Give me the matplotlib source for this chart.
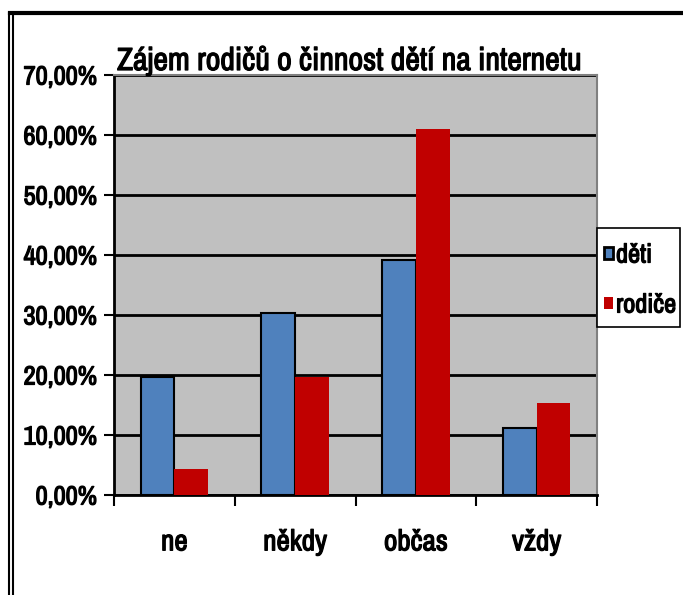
import matplotlib
matplotlib.use('Agg')
import matplotlib.pyplot as plt
from matplotlib import font_manager
from matplotlib.lines import Line2D
from matplotlib.patches import Rectangle
import matplotlib.patheffects as pe
import numpy as np

categories = ['ne', 'někdy', 'občas', 'vždy']
series = ['děti', 'rodiče']
deti = [19.7, 30.3, 39.2, 11.2]
rodice = [4.3, 19.7, 61.0, 15.3]
yticks = [0, 10, 20, 30, 40, 50, 60, 70]

fonts = font_manager.fontManager.ttflist
narrow = [f.name for f in fonts if 'Narrow' in f.name]
if narrow:
    fam = [narrow[0], 'DejaVu Sans']
    k = 1.0
else:
    fam = ['Liberation Sans', 'DejaVu Sans']
    k = 0.82
plt.rcParams['font.family'] = fam
# fake bold (narrow bold face is not installed)
bold = [pe.withStroke(linewidth=0.9, foreground='black')]

W, H = 683, 595
fig = plt.figure(figsize=(W/100, H/100), dpi=100)
ax = fig.add_axes([114/W, 100/H, (597-114)/W, (495-75)/H])
ax.set_facecolor('#C0C0C0')

colors = ['#4F81BD', '#C00000']
edges = ['black', 'none']
x = np.arange(len(categories))
w = 0.28
ax.bar(x - w/2, deti, w, color=colors[0], edgecolor=edges[0], linewidth=1.5, zorder=3)
ax.bar(x + w/2, rodice, w, color=colors[1], edgecolor=edges[1], zorder=3)

ax.set_xlim(-0.5, 3.5)
ax.set_ylim(0, 70)
ax.set_yticks(yticks)
ax.set_yticklabels(['%d,00%%' % v for v in yticks], fontsize=19*k, fontweight='bold')
ax.yaxis.grid(True, color='black', linewidth=2, zorder=1)
ax.set_axisbelow(True)

ax.set_xticks(x)
ax.set_xticklabels(categories, fontsize=21*k, fontweight='bold')
ax.set_xticks(np.arange(-0.5, 4.0, 1), minor=True)
ax.tick_params(axis='x', which='major', length=0, pad=24)
ax.tick_params(axis='x', which='minor', length=8, width=1.5, color='black')
ax.tick_params(axis='y', length=7, width=1.5, color='black', pad=5)
for t in ax.get_xticklabels() + ax.get_yticklabels():
    t.set_path_effects(bold)

for s in ['top', 'right']:
    ax.spines[s].set_color('#808080')
    ax.spines[s].set_linewidth(1.5)
for s in ['left', 'bottom']:
    ax.spines[s].set_color('black')
    ax.spines[s].set_linewidth(2)

fig.text(349/W, 1 - 70/H, 'Zájem rodičů o činnost dětí na internetu',
         ha='center', va='baseline', fontsize=23*k, fontweight='bold', path_effects=bold)

# legend box drawn by hand
fig.add_artist(Rectangle((597/W, 1 - 327/H), 83/W, 99/H, transform=fig.transFigure,
                         facecolor='white', edgecolor='black', linewidth=1.2))
for i, name in enumerate(series):
    yc = 253 + 50*i
    fig.add_artist(Rectangle((604/W, 1 - (yc + 6)/H), 9/W, 12/H, transform=fig.transFigure,
                             facecolor=colors[i], edgecolor=edges[i], linewidth=2))
    fig.text(616/W, 1 - yc/H, name, ha='left', va='center_baseline',
             fontsize=19*k, fontweight='bold', path_effects=bold)

fig.add_artist(Line2D([10/W, 1], [1 - 13/H, 1 - 13/H], color='black', linewidth=3,
                      transform=fig.transFigure))
fig.add_artist(Line2D([9/W, 9/W], [0, 1 - 13/H], color='black', linewidth=1.5,
                      transform=fig.transFigure))
fig.add_artist(Line2D([13/W, 13/W], [0, 1 - 13/H], color='black', linewidth=1.5,
                      transform=fig.transFigure))

fig.savefig('out.png', dpi=100)
